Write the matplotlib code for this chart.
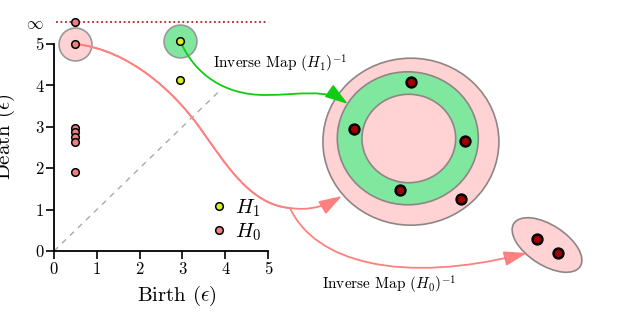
import numpy as np
import matplotlib
matplotlib.use("Agg")
import matplotlib.pyplot as plt
from matplotlib.patches import Ellipse, FancyArrowPatch
from matplotlib.path import Path
from matplotlib.lines import Line2D

plt.rcParams['font.family'] = 'serif'
plt.rcParams['font.serif'] = ['cmr10']
plt.rcParams['mathtext.fontset'] = 'cm'
plt.rcParams['axes.unicode_minus'] = False

# ---------------- data ----------------
INF = 5.52
h0_birth = [0.5, 0.5, 0.5, 0.5, 0.5, 0.5, 0.5]
h0_death = [INF, 5.0, 2.98, 2.87, 2.75, 2.64, 1.92]
h1_birth = [2.95, 2.95]
h1_death = [5.07, 4.12]
tick_values = [0, 1, 2, 3, 4, 5]
tick_labels = ['0', '1', '2', '3', '4', '5']
# point cloud (illustration coordinates, y downwards)
ring_x = [410.7, 354.0, 465.0, 399.7, 461.0]
ring_y = [82.3, 129.0, 141.0, 190.3, 199.0]
pair_x = [536.7, 558.3]
pair_y = [238.7, 253.0]

PINK = '#ffd3d3'
GREEN = '#80e89e'
EDGE = '#8f8585'
H0C = '#f08080'
H1C = '#d8f020'
DARKRED = '#a30000'

fig = plt.figure(figsize=(6.3, 3.22), dpi=100)
ax = fig.add_axes([54 / 630, 1 - 251 / 322, 214 / 630, 5.7 * 41.4 / 322])
ax.set_xlim(0, 5)
ax.set_ylim(0, 5.7)
ax.patch.set_alpha(0)

for s in ['top', 'right']:
    ax.spines[s].set_visible(False)
for s in ['left', 'bottom']:
    ax.spines[s].set_linewidth(1.3)
ax.spines['left'].set_bounds(0, 5)
ax.spines['bottom'].set_bounds(0, 5)

ax.set_xticks(tick_values)
ax.set_xticklabels(tick_labels, fontsize=12)
ax.set_yticks(tick_values + [INF])
ax.set_yticklabels(tick_labels + [r'$\infty$'], fontsize=12)
ax.yaxis.get_major_ticks()[-1].tick1line.set_visible(False)
ax.tick_params(direction='out', length=5.5, width=1.2, pad=2)

ax.set_xlabel(r'Birth ($\epsilon$)', fontsize=15)
ax.xaxis.set_label_coords(0.573, -0.14)
ax.set_ylabel(r'Death ($\epsilon$)', fontsize=15)
ax.yaxis.set_label_coords(-0.172, 0.483)

# diagonal and infinity line
ax.plot([0, 3.85], [0, 3.85], ls=(0, (4, 4)), color='#aaaaaa', lw=1, zorder=1)
ax.plot([0.05, 5.0], [INF, INF], ls=(0, (1, 1.5)), color='#b22222', lw=1.3, zorder=1)

# highlight circles around most persistent finite features
ax.scatter([h0_birth[1]], [h0_death[1]], s=560, fc=PINK, ec='#999999', lw=1.2, zorder=2, clip_on=False)
ax.scatter([h1_birth[0]], [h1_death[0]], s=560, fc=GREEN, ec='#999999', lw=1.2, zorder=2, clip_on=False)

ax.scatter(h1_birth, h1_death, s=30, fc=H1C, ec='black', lw=1.1, zorder=5, clip_on=False)
ax.scatter(h0_birth, h0_death, s=30, fc=H0C, ec='black', lw=1.1, zorder=5, clip_on=False)

handles = [Line2D([], [], ls='none', marker='o', ms=5.5, mfc=H1C, mec='black', mew=1.1),
           Line2D([], [], ls='none', marker='o', ms=5.5, mfc=H0C, mec='black', mew=1.1)]
ax.legend(handles, [r'$H_1$', r'$H_0$'], loc='center', bbox_to_anchor=(0.85, 0.13),
          frameon=False, fontsize=15, handlelength=0.8, handletextpad=0.4,
          labelspacing=0.1, borderpad=0)

# overlay axes in pixel-like coordinates (y downward)
ov = fig.add_axes([0, 0, 1, 1], zorder=-1)
ov.set_xlim(0, 630)
ov.set_ylim(322, 0)
ov.axis('off')

ov.add_patch(Ellipse((410.9, 141.7), 176, 167, fc=PINK, ec=EDGE, lw=1.2, zorder=1))
ov.add_patch(Ellipse((407.8, 138.3), 141, 133, fc=GREEN, ec=EDGE, lw=1.2, zorder=1))
ov.add_patch(Ellipse((408.8, 138.5), 93.7, 88.4, fc=PINK, ec=EDGE, lw=1.2, zorder=1))
ov.add_patch(Ellipse((547, 245), 79, 40, angle=33, fc=PINK, ec=EDGE, lw=1.2, zorder=1))

ov.scatter(ring_x, ring_y, s=50, fc=DARKRED, ec='black', lw=1.8, zorder=3)
ov.scatter(pair_x, pair_y, s=50, fc=DARKRED, ec='black', lw=1.8, zorder=3)

ov.text(213, 64, r'Inverse Map $(H_1)^{-1}$', fontsize=11, va='center', ha='left')
ov.text(322, 285, r'Inverse Map $(H_0)^{-1}$', fontsize=11, va='center', ha='left')


def to_ov(x, y):
    disp = ax.transData.transform((x, y))
    return tuple(ov.transData.inverted().transform(disp))


p_h0 = to_ov(h0_birth[1], h0_death[1])
p_h1 = to_ov(h1_birth[0], h1_death[0])

C4 = Path.CURVE4
s_curve = [p_h0, (130, 50), (175, 93), (200, 128), (225, 163), (250, 205), (290, 208)]
upper = s_curve + [(310, 211), (325, 206), (342, 196)]
lower = s_curve + [(315, 262), (400, 285), (527, 253)]
codes = [Path.MOVETO] + [C4] * 9

for verts in (upper, lower):
    ax.add_patch(FancyArrowPatch(path=Path(verts, codes), transform=ov.transData,
                                 arrowstyle='-|>,head_length=1.4,head_width=0.45',
                                 mutation_scale=10, color='#ff8080', lw=1.3,
                                 zorder=4, clip_on=False))

green = [p_h1, (195, 75), (225, 95), (265, 95), (300, 95), (325, 88), (348, 104)]
ax.add_patch(FancyArrowPatch(path=Path(green, [Path.MOVETO] + [C4] * 6), transform=ov.transData,
                             arrowstyle='-|>,head_length=1.4,head_width=0.45',
                             mutation_scale=10, color='#11cc11', lw=1.3,
                             zorder=4, clip_on=False))

fig.savefig('out.png', dpi=100)
